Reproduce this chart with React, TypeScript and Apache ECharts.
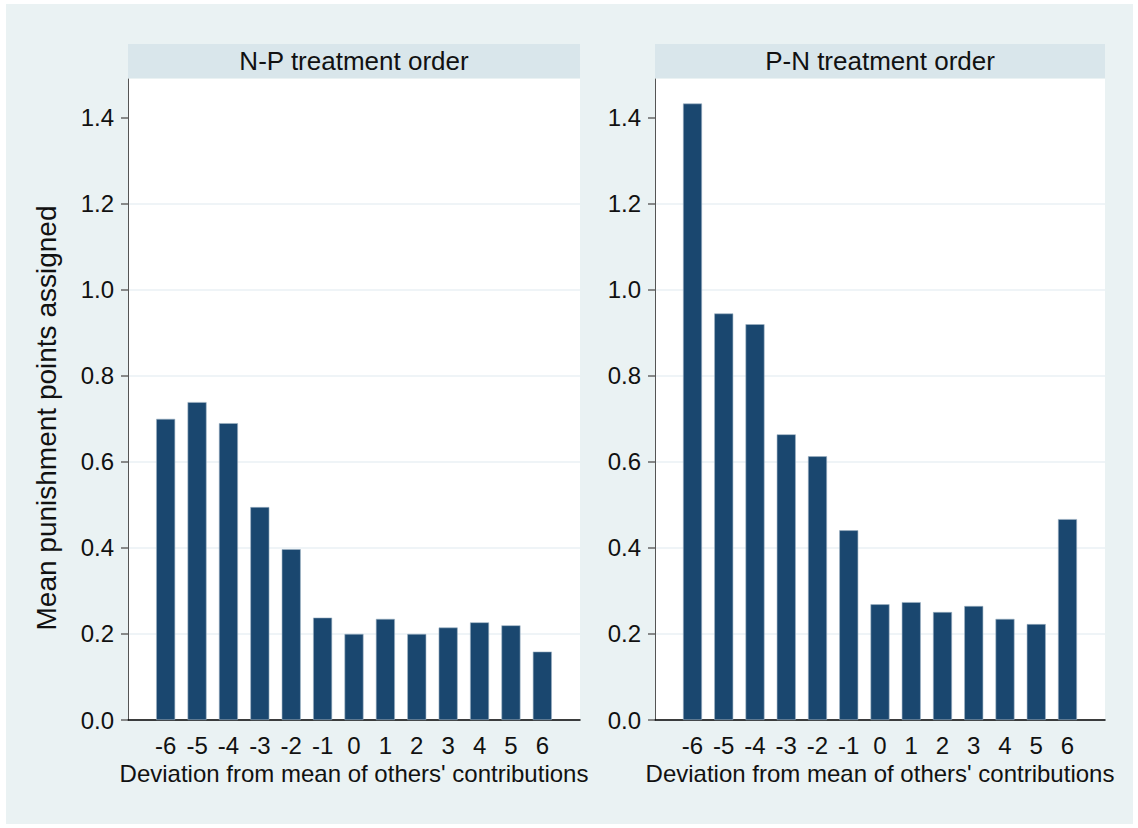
import React, { useEffect, useRef } from "react";
import * as echarts from "echarts";

const categories = [-6, -5, -4, -3, -2, -1, 0, 1, 2, 3, 4, 5, 6];
const npValues = [0.7, 0.739, 0.69, 0.495, 0.397, 0.238, 0.2, 0.235, 0.2, 0.215, 0.227, 0.22, 0.159];
const pnValues = [1.433, 0.945, 0.92, 0.664, 0.613, 0.441, 0.269, 0.274, 0.251, 0.265, 0.235, 0.223, 0.467];
const yTicks = [0, 0.2, 0.4, 0.6, 0.8, 1.0, 1.2, 1.4];
const panelTitles = ["N-P treatment order", "P-N treatment order"];
const xTitle = "Deviation from mean of others' contributions";
const yTitle = "Mean punishment points assigned";

const FONT = "'Liberation Sans', Arial, Helvetica, sans-serif";
const BAR = "#1a476f";

export default function App() {
  const ref = useRef<HTMLDivElement>(null);
  useEffect(() => {
    if (!ref.current) return;
    const chart = echarts.init(ref.current, null, { renderer: "svg" });
    const panels = [
      { left: 128, width: 452, values: npValues },
      { left: 655, width: 450, values: pnValues },
    ];
    const top = 79;
    const bottomY = 720;
    const H = 828;

    const grids = panels.map((p) => ({
      left: p.left,
      width: p.width,
      top,
      bottom: H - bottomY,
      show: true,
      backgroundColor: "#ffffff",
      borderWidth: 0,
      containLabel: false,
    }));

    const xAxes = panels.map((p, i) => ({
      type: "value",
      gridIndex: i,
      min: -7.2,
      max: 7.2,
      name: xTitle,
      nameLocation: "middle",
      nameGap: 40,
      nameTextStyle: { fontFamily: FONT, fontSize: 24, color: "#111" },
      axisLine: { show: true, onZero: false, lineStyle: { color: "#000", width: 1.5 } },
      axisTick: { show: false },
      splitLine: { show: false },
      axisLabel: {
        customValues: categories,
        margin: 13,
        fontFamily: FONT,
        fontSize: 24,
        color: "#111",
        formatter: (v: number) => String(v),
      },
    }));

    const yAxes = panels.map((p, i) => ({
      type: "value",
      gridIndex: i,
      min: 0,
      max: 1.49,
      interval: 0.2,
      axisLine: { show: true, onZero: false, lineStyle: { color: "#555", width: 1 } },
      axisTick: { show: true, length: 7, customValues: yTicks, lineStyle: { color: "#666", width: 1.5 } },
      splitLine: { show: true, showMaxLine: false, lineStyle: { color: "#eaf1f4", width: 1.5 } },
      axisLabel: {
        customValues: yTicks,
        margin: 14,
        fontFamily: FONT,
        fontSize: 24,
        color: "#111",
        formatter: (v: number) => v.toFixed(1),
      },
    }));

    const series = panels.map((p, i) => ({
      type: "bar",
      xAxisIndex: i,
      yAxisIndex: i,
      barWidth: 19,
      itemStyle: { color: BAR, borderColor: "#9fb3c4", borderWidth: 0.6 },
      data: categories.map((c, k) => [c, p.values[k]]),
    }));

    const graphic: any[] = [
      {
        type: "rect",
        z: -100,
        silent: true,
        shape: { x: 6, y: 4, width: 1127, height: 820 },
        style: { fill: "#eaf2f3" },
      },
      {
        type: "text",
        x: 46,
        y: 418,
        rotation: Math.PI / 2,
        style: {
          text: yTitle,
          fontFamily: FONT,
          fontSize: 28,
          fill: "#111",
          align: "center",
          verticalAlign: "middle",
        },
      },
    ];
    panels.forEach((p, i) => {
      graphic.push({
        type: "rect",
        shape: { x: p.left, y: 44, width: p.width, height: 34 },
        style: { fill: "#d9e6eb" },
      });
      graphic.push({
        type: "text",
        x: p.left + p.width / 2,
        y: 61,
        style: {
          text: panelTitles[i],
          fontFamily: FONT,
          fontSize: 26,
          fill: "#111",
          align: "center",
          verticalAlign: "middle",
        },
      });
    });

    chart.setOption({
      animation: false,
      backgroundColor: "#ffffff",
      grid: grids,
      xAxis: xAxes,
      yAxis: yAxes,
      series,
      graphic,
    } as any);
    return () => chart.dispose();
  }, []);
  return (
    <div
      ref={ref}
      style={{ position: "fixed", left: 0, top: 0, width: 1138, height: 828 }}
    />
  );
}
